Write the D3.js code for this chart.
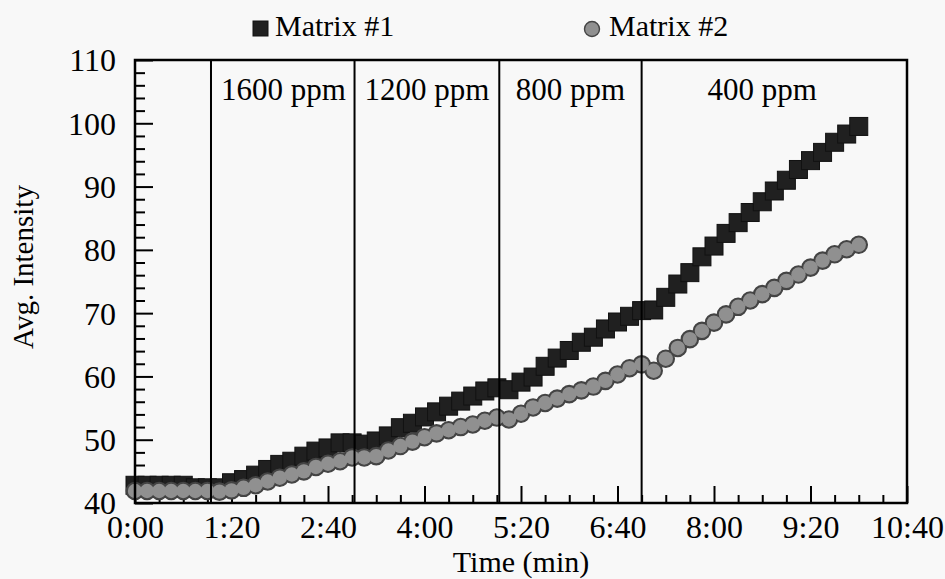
<!DOCTYPE html>
<html lang="en">
<head>
  <meta charset="utf-8">
  <title>Avg. Intensity vs Time</title>
  <script src="https://d3js.org/d3.v7.min.js"></script>
  <style>
    body {
      margin: 0;
      background: #f8f8f8;
      font-family: "Liberation Serif", "Times New Roman", serif;
    }
    svg text { fill: #000; }
    .frame { fill: none; stroke: #000; stroke-width: 2.5px; }
    .step-line { stroke: #000; stroke-width: 2px; }
    .tick line { stroke: #000; stroke-width: 2px; }
    .sq { fill: #202020; stroke: #111; stroke-width: 1px; }
    .ci-edge { fill: #444; stroke: #444; stroke-width: 1.6px; }
    .ci { fill: #909090; stroke: none; }
    .ci-leg { fill: #909090; stroke: #444; stroke-width: 1.4px; }
  </style>
</head>
<body>
  <div id="chart"></div>
  <script>
    // time in seconds
    const times = [0, 10, 20, 30, 40, 50, 60, 70, 80, 90,
      100, 110, 120, 130, 140, 150, 160, 170, 180, 190,
      200, 210, 220, 230, 240, 250, 260, 270, 280, 290,
      300, 310, 320, 330, 340, 350, 360, 370, 380, 390,
      400, 410, 420, 430, 440, 450, 460, 470, 480, 490,
      500, 510, 520, 530, 540, 550, 560, 570, 580, 590, 600];

    const matrix1 = [42.8, 42.8, 42.8, 42.8, 42.8, 42.4, 42.4, 42.4, 43.2, 43.7,
      44.4, 45.3, 46.1, 46.6, 47.4, 48.2, 48.7, 49.5, 49.5, 49.3,
      49.8, 50.6, 51.9, 52.6, 53.6, 54.4, 55.3, 56.1, 56.9, 57.7,
      58.2, 57.9, 59.1, 59.9, 61.6, 62.9, 64.1, 65.4, 66.2, 67.5,
      68.6, 69.5, 70.4, 70.5, 72.5, 74.6, 76.4, 78.9, 80.6, 82.6,
      84.3, 85.9, 87.6, 89.3, 91.0, 92.7, 94.1, 95.4, 97.0, 98.3, 99.5];

    const matrix2 = [41.9, 41.9, 41.9, 41.9, 41.9, 41.9, 41.9, 41.8, 42.0, 42.4,
      42.8, 43.4, 44.0, 44.5, 45.0, 45.7, 46.2, 46.6, 47.2, 47.2,
      47.4, 48.3, 49.0, 49.7, 50.4, 51.0, 51.5, 52.0, 52.4, 53.0,
      53.5, 53.2, 54.1, 55.1, 55.8, 56.5, 57.2, 57.8, 58.4, 59.3,
      60.3, 61.3, 61.9, 60.9, 62.8, 64.5, 65.9, 67.2, 68.5, 69.8,
      71.0, 72.0, 73.0, 74.0, 75.1, 76.1, 77.2, 78.3, 79.3, 80.1, 80.8];

    // concentration changes (s) and label positions (s)
    const changeTimes = [63, 182, 302, 420];
    const ppmLabels = ["1600 ppm", "1200 ppm", "800 ppm", "400 ppm"];
    const ppmLabelTimes = [123, 242, 361, 520];

    const xMajorTicks = [0, 80, 160, 240, 320, 400, 480, 560, 640];
    const xMinorTicks = [20, 40, 60, 100, 120, 140, 180, 200, 220, 260, 280, 300,
      340, 360, 380, 420, 440, 460, 500, 520, 540, 580, 600, 620];
    const yMajorTicks = [40, 50, 60, 70, 80, 90, 100, 110];
    const yMinorTicks = [42, 44, 46, 48, 52, 54, 56, 58, 62, 64, 66, 68, 72, 74, 76, 78,
      82, 84, 86, 88, 92, 94, 96, 98, 102, 104, 106, 108];

    const width = 945, height = 579;
    const margin = {top: 60, right: 38, bottom: 76, left: 135};
    const iw = width - margin.left - margin.right;
    const ih = height - margin.top - margin.bottom;

    const svg = d3.select("#chart").append("svg")
      .attr("width", width)
      .attr("height", height);
    const g = svg.append("g")
      .attr("transform", `translate(${margin.left},${margin.top})`);

    const x = d3.scaleLinear().domain([0, 640]).range([0, iw]);
    const y = d3.scaleLinear().domain([40, 110]).range([ih, 0]);

    const fmtTime = s => Math.floor(s / 60) + ":" + String(s % 60).padStart(2, "0");

    // x axis: minor then major ticks, pointing inward
    g.append("g")
      .attr("transform", `translate(0,${ih})`)
      .call(d3.axisBottom(x).tickValues(xMinorTicks).tickSize(-8).tickFormat(""))
      .call(a => a.select(".domain").remove());
    const xAx = g.append("g")
      .attr("transform", `translate(0,${ih})`)
      .call(d3.axisBottom(x).tickValues(xMajorTicks).tickSize(-17).tickFormat(fmtTime))
      .call(a => a.select(".domain").remove());
    xAx.selectAll("text")
      .attr("y", 35).attr("dy", null)
      .style("font-size", "32px")
      .style("font-family", "'Liberation Serif', serif");

    // y axis
    g.append("g")
      .call(d3.axisLeft(y).tickValues(yMinorTicks).tickSize(-10).tickFormat(""))
      .call(a => a.select(".domain").remove());
    const yAx = g.append("g")
      .call(d3.axisLeft(y).tickValues(yMajorTicks).tickSize(-18).tickPadding(19))
      .call(a => a.select(".domain").remove());
    yAx.selectAll("text")
      .attr("dy", "0.34em")
      .style("font-size", "32px")
      .style("font-family", "'Liberation Serif', serif");

    // markers: Matrix #1 squares, Matrix #2 circles on top
    const sq = 18, r = 8.5;
    g.selectAll("rect.sq")
      .data(times.map((t, i) => ({t, v: matrix1[i]})))
      .join("rect")
      .attr("class", "sq")
      .attr("x", d => x(d.t) - sq / 2)
      .attr("y", d => y(d.v) - sq / 2)
      .attr("width", sq)
      .attr("height", sq);

    // circles: dark rim pass, then grey fill pass so the band reads as one strip
    const pts2 = times.map((t, i) => ({t, v: matrix2[i]}));
    g.selectAll("circle.ci-edge")
      .data(pts2)
      .join("circle")
      .attr("class", "ci-edge")
      .attr("cx", d => x(d.t))
      .attr("cy", d => y(d.v))
      .attr("r", r);
    g.selectAll("circle.ci")
      .data(pts2)
      .join("circle")
      .attr("class", "ci")
      .attr("cx", d => x(d.t))
      .attr("cy", d => y(d.v))
      .attr("r", r - 1.3);

    // concentration step lines
    g.selectAll("line.step-line")
      .data(changeTimes)
      .join("line")
      .attr("class", "step-line")
      .attr("x1", d => x(d)).attr("x2", d => x(d))
      .attr("y1", 0).attr("y2", ih);

    g.selectAll("text.ppm")
      .data(ppmLabels)
      .join("text")
      .attr("class", "ppm")
      .attr("x", (d, i) => x(ppmLabelTimes[i]))
      .attr("y", 40)
      .attr("text-anchor", "middle")
      .style("font-size", "31px")
      .text(d => d);

    // frame
    g.append("rect")
      .attr("class", "frame")
      .attr("width", iw)
      .attr("height", ih);

    // axis titles
    svg.append("text")
      .attr("x", margin.left + iw / 2)
      .attr("y", 572)
      .attr("text-anchor", "middle")
      .style("font-size", "30px")
      .text("Time (min)");
    svg.append("text")
      .attr("transform", "translate(33,267) rotate(-90)")
      .attr("text-anchor", "middle")
      .style("font-size", "29px")
      .text("Avg. Intensity");

    // legend
    const leg = svg.append("g");
    leg.append("rect")
      .attr("class", "sq")
      .attr("x", 253).attr("y", 21)
      .attr("width", 15).attr("height", 15);
    leg.append("text")
      .attr("x", 275).attr("y", 36)
      .style("font-size", "30px")
      .text("Matrix #1");
    leg.append("circle")
      .attr("class", "ci-leg")
      .attr("cx", 592).attr("cy", 29).attr("r", 7.5);
    leg.append("text")
      .attr("x", 609).attr("y", 36)
      .style("font-size", "30px")
      .text("Matrix #2");
  </script>
</body>
</html>
